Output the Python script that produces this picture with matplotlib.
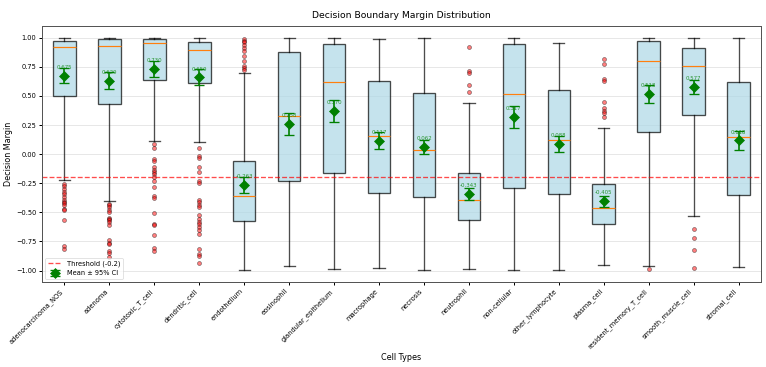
import matplotlib
matplotlib.use("Agg")
import matplotlib.pyplot as plt

cell_types = ["adenocarcinoma_NOS", "adenoma", "cytotoxic_T_cell", "dendritic_cell",
              "endothelium", "eosinophil", "glandular_epithelium", "macrophage",
              "necrosis", "neutrophil", "non-cellular", "other_lymphocyte",
              "plasma_cell", "resident_memory_T_cell", "smooth_muscle_cell", "stromal_cell"]

# box stats
whis_lo = [-0.218, -0.402, 0.112, 0.100, -0.995, -0.963, -0.983, -0.980,
           -0.997, -0.989, -0.994, -0.994, -0.951, -0.963, -0.535, -0.972]
q1 = [0.497, 0.431, 0.637, 0.609, -0.578, -0.235, -0.161, -0.336,
      -0.368, -0.569, -0.287, -0.345, -0.604, 0.192, 0.333, -0.353]
median = [0.916, 0.925, 0.953, 0.893, -0.362, 0.326, 0.618, 0.158,
          0.034, -0.391, 0.517, 0.121, -0.463, 0.796, 0.756, 0.143]
q3 = [0.970, 0.985, 0.990, 0.965, -0.063, 0.880, 0.948, 0.626,
      0.523, -0.161, 0.945, 0.552, -0.256, 0.968, 0.914, 0.618]
whis_hi = [1.000, 0.997, 1.000, 0.997, 0.695, 1.000, 1.000, 0.989,
           0.997, 0.437, 1.000, 0.954, 0.224, 1.000, 0.997, 1.000]

fliers = [
    [-0.253, -0.276, -0.302, -0.325, -0.345, -0.368, -0.391, -0.411, -0.420,
     -0.434, -0.474, -0.483, -0.563, -0.793, -0.813],
    [-0.425, -0.440, -0.454, -0.477, -0.497, -0.546, -0.560, -0.569, -0.583,
     -0.612, -0.741, -0.764, -0.776, -0.828, -0.850, -0.880],
    [0.086, 0.049, -0.046, -0.061, -0.109, -0.132, -0.152, -0.172, -0.195,
     -0.230, -0.282, -0.359, -0.376, -0.503, -0.603, -0.612, -0.698, -0.804, -0.833],
    [0.054, -0.015, -0.032, -0.109, -0.152, -0.233, -0.244, -0.397, -0.411,
     -0.440, -0.454, -0.520, -0.555, -0.583, -0.598, -0.626, -0.655, -0.684,
     -0.813, -0.856, -0.879, -0.934],
    [0.989, 0.974, 0.960, 0.940, 0.911, 0.882, 0.847, 0.796, 0.753, 0.739, 0.724],
    [], [], [], [],
    [0.917, 0.710, 0.695, 0.595, 0.537],
    [], [],
    [0.816, 0.773, 0.644, 0.629, 0.451, 0.394, 0.374, 0.351, 0.316],
    [-0.986],
    [-0.641, -0.719, -0.819, -0.977],
    [],
]

means = [0.675, 0.629, 0.730, 0.659, -0.263, 0.258, 0.370, 0.117,
         0.062, -0.343, 0.317, 0.088, -0.405, 0.518, 0.577, 0.118]
ci95 = [0.064, 0.073, 0.069, 0.068, 0.067, 0.093, 0.093, 0.069,
        0.062, 0.050, 0.093, 0.070, 0.046, 0.079, 0.063, 0.082]

threshold = -0.2

stats = []
for i, name in enumerate(cell_types):
    stats.append({
        "label": name, "whislo": whis_lo[i], "q1": q1[i], "med": median[i],
        "q3": q3[i], "whishi": whis_hi[i], "fliers": fliers[i],
    })

fig = plt.figure(figsize=(16, 7.666))
ax = fig.add_axes([0.0548, 0.231, 0.9387, 0.698])

positions = list(range(len(cell_types)))
bp = ax.bxp(stats, positions=positions, widths=0.5, patch_artist=True,
            boxprops=dict(facecolor="lightblue", edgecolor="black", alpha=0.7),
            whiskerprops=dict(color="black", alpha=0.7, linewidth=2),
            capprops=dict(color="black", alpha=0.7, linewidth=2),
            medianprops=dict(color="C1", linewidth=1.8),
            flierprops=dict(marker="o", markerfacecolor="red", markersize=6, alpha=0.5))
for b in bp["boxes"]:
    b.set_linewidth(2)

ax.errorbar(positions, means, yerr=ci95, fmt="D", color="green", markersize=11,
            capsize=7, linewidth=2.5, capthick=2, label="Mean ± 95% CI", zorder=5)
for x, m in zip(positions, means):
    ax.text(x, m + 0.05, f"{m:.3f}", ha="center", va="bottom", fontsize=8,
            color="green", alpha=0.8)

ax.axhline(threshold, color="red", linestyle="--", linewidth=2, alpha=0.7,
           label=f"Threshold ({threshold})")

ax.set_xlim(-0.5, len(cell_types) - 0.5)
ax.set_ylim(-1.1, 1.1)
ax.set_xticks(positions)
ax.set_xticklabels(cell_types, rotation=45, ha="right", fontsize=10)
ax.tick_params(axis="y", labelsize=10)
ax.tick_params(width=1.5, length=5)
for s in ax.spines.values():
    s.set_linewidth(1.5)
    s.set_color("#555555")
ax.yaxis.grid(True, alpha=0.3, linewidth=1.5)
ax.set_axisbelow(True)
ax.set_xlabel("Cell Types", fontsize=12)
ax.set_ylabel("Decision Margin", fontsize=12)
ax.set_title("Decision Boundary Margin Distribution", fontsize=14, pad=12)
ax.legend(loc="lower left", fontsize=10)

fig.savefig("out.png", dpi=47.875)
